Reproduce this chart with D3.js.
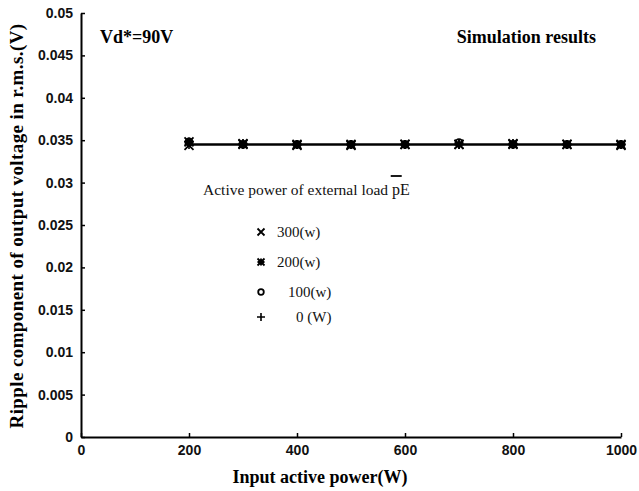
<!DOCTYPE html>
<html><head><meta charset="utf-8">
<script src="https://cdn.jsdelivr.net/npm/d3@7"></script>
<style>body{margin:0;background:#fff}svg{display:block}</style>
</head><body>
<svg id="c" width="639" height="491"></svg>
<script>
const xPower = [200,300,400,500,600,700,800,900,1000];
const load300 = [0.0344,0.0345,0.0344,0.0344,0.0345,0.0345,0.0345,0.0345,0.0344];
const load200 = [0.0348,0.0346,0.0345,0.0345,0.0345,0.0345,0.0346,0.0345,0.0345];
const load100 = [0.0348,0.0345,0.0345,0.0345,0.0345,0.0347,0.0345,0.0345,0.0345];
const load0   = [0.0345,0.0345,0.0345,0.0345,0.0345,0.0345,0.0345,0.0345,0.0345];
const xTicks = [0,200,400,600,800,1000];
const yTicks = [0,0.005,0.01,0.015,0.02,0.025,0.03,0.035,0.04,0.045,0.05];
const yTickLabels = ["0","0.005","0.01","0.015","0.02","0.025","0.03","0.035","0.04","0.045","0.05"];
const legendLabels = ["300(w)","200(w)","100(w)","0 (W)"];

const svg = d3.select("#c");
const x = d3.scaleLinear().domain([0,1000]).range([81,621]);
const y = d3.scaleLinear().domain([0,0.05]).range([437,13]);

const serif = "'Liberation Serif','Times New Roman',serif";
const sans = "'Liberation Sans',Arial,sans-serif";

// axes
const ya = svg.append("g").attr("transform","translate(81,0)")
  .call(d3.axisLeft(y).tickValues(yTicks).tickFormat((d,i)=>yTickLabels[i]).tickSizeInner(-4).tickSizeOuter(0).tickPadding(8));
const xa = svg.append("g").attr("transform","translate(0,437)")
  .call(d3.axisBottom(x).tickValues(xTicks).tickFormat(d3.format("d")).tickSizeInner(-4).tickSizeOuter(0).tickPadding(8));
[ya,xa].forEach(g=>{
  g.select(".domain").attr("stroke","#000").attr("stroke-width",2);
  g.selectAll(".tick line").attr("stroke","#000").attr("stroke-width",1.5);
  g.selectAll("text").attr("font-family",sans).attr("font-size",14).attr("font-weight","bold").attr("fill","#111");
});

// line (through the 0 W series)
svg.append("path").datum(xPower.map((v,i)=>[v,load0[i]]))
  .attr("d",d3.line().x(d=>x(d[0])).y(d=>y(d[1])))
  .attr("fill","none").attr("stroke","#000").attr("stroke-width",2.4);

// markers
function marker(g,type,cx,cy,s){
  if(type==="x"){
    g.append("path").attr("d",`M${cx-s},${cy-s}L${cx+s},${cy+s}M${cx-s},${cy+s}L${cx+s},${cy-s}`).attr("stroke","#000").attr("stroke-width",1.8);
  } else if(type==="star"){
    g.append("path").attr("d",`M${cx-s},${cy-s}L${cx+s},${cy+s}M${cx-s},${cy+s}L${cx+s},${cy-s}M${cx-s},${cy}L${cx+s},${cy}M${cx},${cy-s}L${cx},${cy+s}`).attr("stroke","#000").attr("stroke-width",1.8);
    g.append("rect").attr("x",cx-s*0.65).attr("y",cy-s*0.65).attr("width",s*1.3).attr("height",s*1.3).attr("fill","#000");
  } else if(type==="o"){
    g.append("circle").attr("cx",cx).attr("cy",cy).attr("r",s*0.8).attr("fill","none").attr("stroke","#000").attr("stroke-width",1.8);
  } else {
    g.append("path").attr("d",`M${cx-s},${cy}L${cx+s},${cy}M${cx},${cy-s}L${cx},${cy+s}`).attr("stroke","#000").attr("stroke-width",1.6);
  }
}
const series = [load300,load200,load100,load0];
const types=["x","star","o","plus"];
const mg = svg.append("g");
series.forEach((s,k)=>s.forEach((v,i)=>marker(mg,types[k],x(xPower[i]),y(v),4.5)));

// annotations
svg.append("text").attr("x",100).attr("y",43).attr("font-family",serif).attr("font-weight","bold").attr("font-size",18).text("Vd*=90V");
svg.append("text").attr("x",596).attr("y",43).attr("text-anchor","end").attr("font-family",serif).attr("font-weight","bold").attr("font-size",18).text("Simulation results");

// legend
const lg = svg.append("g");
const lt = lg.append("text").attr("x",203).attr("y",195).attr("font-family",serif).attr("font-size",15.5).attr("fill","#111");
lt.append("tspan").text("Active power of external load ");
lt.append("tspan").text("pE").attr("font-size",16);
const tb = lt.node().getBBox();
lg.append("line").attr("x1",tb.x+tb.width-19).attr("x2",tb.x+tb.width-8).attr("y1",176).attr("y2",176).attr("stroke","#000").attr("stroke-width",1.8);
const legX = [277,277,288,296];
const legY = [237,267,297,322];
legendLabels.forEach((t,i)=>{
  marker(lg,types[i],261,legY[i]-5,i===3?4:3.5);
  lg.append("text").attr("x",legX[i]).attr("y",legY[i]).attr("font-family",serif).attr("font-size",15).attr("fill","#111").text(t);
});

// axis titles
svg.append("text").attr("x",320).attr("y",483).attr("text-anchor","middle").attr("font-family",serif).attr("font-weight","bold").attr("font-size",18).text("Input active power(W)");
svg.append("text").attr("transform","translate(23,226) rotate(-90)").attr("text-anchor","middle").attr("font-family",serif).attr("font-weight","bold").attr("font-size",19).attr("letter-spacing",0.4).text("Ripple component of output voltage in r.m.s.(V)");
</script>
</body></html>
